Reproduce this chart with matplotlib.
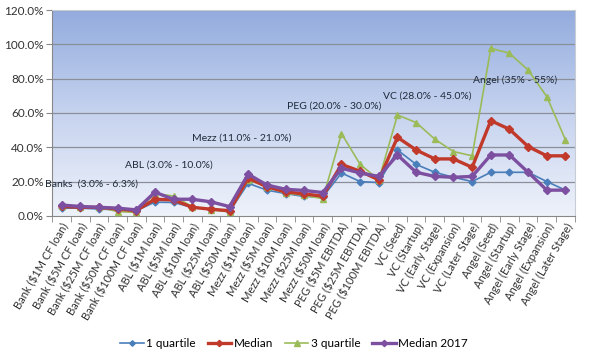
import numpy as np
import matplotlib
matplotlib.use("Agg")
import matplotlib.pyplot as plt
from matplotlib.colors import LinearSegmentedColormap
from matplotlib.ticker import FuncFormatter, FixedLocator

plt.rcParams["font.family"] = ["Lato", "DejaVu Sans"]

categories = [
    "Bank ($1M CF loan)", "Bank ($5M CF loan)", "Bank ($25M CF loan)", "Bank ($50M CF loan)",
    "Bank ($100M CF loan)", "ABL ($1M loan)", "ABL ($5M loan)", "ABL ($10M loan)",
    "ABL ($25M loan)", "ABL ($50M loan)", "Mezz ($1M loan)", "Mezz ($5M loan)",
    "Mezz ($10M loan)", "Mezz ($25M loan)", "Mezz ($50M loan)", "PEG ($5M EBITDA)",
    "PEG ($25M EBITDA)", "PEG ($100M EBITDA)", "VC (Seed)", "VC (Startup)",
    "VC (Early Stage)", "VC (Expansion)", "VC (Later Stage)", "Angel (Seed)",
    "Angel (Startup)", "Angel (Early Stage)", "Angel (Expansion)", "Angel (Later Stage)",
]

q1 = [4.5, 4.5, 4.0, 3.5, 3.0, 8.0, 7.8, 5.0, 3.9, 2.5, 19.0, 15.0, 13.0, 11.3, 11.0,
      25.0, 20.0, 19.4, 38.4, 30.0, 25.4, 22.5, 20.0, 25.4, 25.4, 25.4, 20.0, 15.0]
median = [5.5, 5.0, 5.0, 4.0, 3.0, 9.7, 9.3, 5.0, 3.9, 3.0, 22.0, 17.0, 14.0, 12.8, 11.5,
          30.0, 26.0, 21.0, 45.8, 38.4, 33.2, 33.2, 28.3, 55.5, 50.5, 40.4, 35.0, 35.0]
q3 = [6.0, 5.0, 5.0, 2.5, 2.0, 13.0, 11.6, 5.4, 3.5, 2.3, 21.0, 17.0, 13.2, 12.0, 10.0,
      48.0, 30.0, 21.0, 58.8, 54.4, 44.7, 37.5, 35.0, 97.7, 94.8, 85.0, 69.5, 44.3]
median2017 = [6.3, 5.5, 5.0, 4.5, 3.5, 13.8, 9.7, 9.7, 8.2, 5.4, 24.3, 18.0, 15.5, 14.8, 13.6,
              27.8, 25.0, 23.0, 35.5, 25.4, 23.0, 22.5, 23.0, 35.5, 35.5, 25.4, 15.0, 15.0]

annotations = [
    ("Banks  (3.0% - 6.3%)", -0.9, 18.6),
    ("ABL (3.0% - 10.0%)", 3.4, 29.7),
    ("Mezz (11.0% - 21.0%)", 7.0, 45.4),
    ("PEG (20.0% - 30.0%)", 12.1, 64.0),
    ("VC (28.0% - 45.0%)", 17.2, 69.9),
    ("Angel (35% - 55%)", 22.05, 79.2),
]

fig = plt.figure(figsize=(6.0, 3.58), dpi=100)
ax = fig.add_axes([0.087, 0.397, 0.871, 0.575])

x = np.arange(len(categories))
n = len(categories)
ax.set_xlim(-0.5, n - 0.5)
ax.set_ylim(0, 120)

# gradient background
cmap = LinearSegmentedColormap.from_list("bg", ["#eef2fa", "#c6d3ef", "#93acde"])
grad = np.linspace(0, 1, 256).reshape(-1, 1)
ax.imshow(grad, extent=[-0.5, n - 0.5, 0, 120], origin="lower", aspect="auto",
          cmap=cmap, zorder=0)

for yv in range(20, 121, 20):
    ax.axhline(yv, color="#8a8f99", lw=0.9, zorder=1)

ax.plot(x, q1, color="#4a7ebb", lw=1.2, marker="D", ms=3.5, label="1 quartile", zorder=3)
ax.plot(x, median, color="#c0392b", lw=2.4, marker="D", ms=4, label="Median", zorder=4)
ax.plot(x, q3, color="#9bbb59", lw=1.2, marker="^", ms=5, label="3 quartile", zorder=3)
ax.plot(x, median2017, color="#7d4fa0", lw=2.4, marker="D", ms=4, label="Median 2017", zorder=5)

for txt, xx, yy in annotations:
    ax.text(xx, yy, txt, fontsize=7.5, color="#1f2a3a", ha="left", va="center", zorder=6,
            clip_on=False)

ax.set_xticks(x)
ax.set_xticklabels(categories, rotation=60, ha="right", rotation_mode="anchor",
                   fontsize=8, color="#333333")
ax.tick_params(axis="x", length=0, pad=4)
ax.xaxis.set_minor_locator(FixedLocator(np.arange(-0.5, n, 1)))
ax.tick_params(axis="x", which="minor", length=4, color="#888888")
ax.set_yticks(range(0, 121, 20))
ax.yaxis.set_major_formatter(FuncFormatter(lambda v, p: f"{v:.1f}%"))
ax.tick_params(axis="y", labelsize=8.5, colors="#333333", length=4, color="#888888", pad=2)

for s in ["top", "right"]:
    ax.spines[s].set_color("#c8ccd4")
for s in ["left", "bottom"]:
    ax.spines[s].set_color("#888888")

leg = fig.legend(loc="lower center", bbox_to_anchor=(0.49, -0.005), ncol=4, frameon=False,
                 fontsize=8.5, handlelength=2.0, columnspacing=1.0, handletextpad=0.2,
                 markerscale=0.8)

fig.savefig("out.png", dpi=100)
